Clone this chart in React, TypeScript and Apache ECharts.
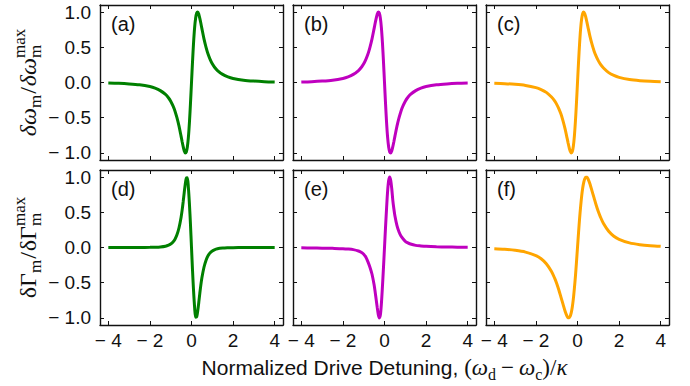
import React, { useEffect, useRef } from "react";
import * as echarts from "echarts";

// Normalized drive detuning (shared sample positions)
const X = [-4, -3.5, -3, -2.5, -2, -1.75, -1.5, -1.25, -1.1, -1.0, -0.9, -0.8, -0.7, -0.6, -0.5, -0.45, -0.4, -0.35, -0.3, -0.25, -0.2, -0.15, -0.1, -0.05, 0, 0.05, 0.1, 0.15, 0.2, 0.25, 0.3, 0.35, 0.4, 0.45, 0.5, 0.6, 0.7, 0.8, 0.9, 1.0, 1.1, 1.25, 1.5, 1.75, 2, 2.5, 3, 3.5, 4];

// (a) frequency shift, green
const A = [-0.008, -0.012, -0.02, -0.033, -0.058, -0.08, -0.115, -0.17, -0.22, -0.265, -0.325, -0.4, -0.5, -0.62, -0.765, -0.84, -0.91, -0.97, -1.0, -0.985, -0.915, -0.78, -0.57, -0.3, 0, 0.3, 0.57, 0.78, 0.915, 0.985, 1.0, 0.97, 0.91, 0.84, 0.765, 0.62, 0.5, 0.4, 0.325, 0.265, 0.22, 0.17, 0.115, 0.08, 0.058, 0.033, 0.02, 0.012, 0.008];
// (b) frequency shift, magenta
const B = [0.008, 0.012, 0.02, 0.033, 0.058, 0.08, 0.115, 0.17, 0.22, 0.265, 0.325, 0.4, 0.5, 0.62, 0.765, 0.84, 0.91, 0.97, 1.0, 0.985, 0.915, 0.78, 0.57, 0.3, 0, -0.3, -0.57, -0.78, -0.915, -0.985, -1.0, -0.97, -0.91, -0.84, -0.765, -0.62, -0.5, -0.4, -0.325, -0.265, -0.22, -0.17, -0.115, -0.08, -0.058, -0.033, -0.02, -0.012, -0.008];
// (c) frequency shift, orange
const C = [-0.012, -0.017, -0.026, -0.042, -0.073, -0.1, -0.14, -0.205, -0.26, -0.31, -0.37, -0.445, -0.54, -0.655, -0.79, -0.86, -0.925, -0.975, -1.0, -0.98, -0.905, -0.76, -0.55, -0.29, 0, 0.29, 0.55, 0.76, 0.905, 0.98, 1.0, 0.975, 0.925, 0.86, 0.79, 0.655, 0.54, 0.445, 0.37, 0.31, 0.26, 0.205, 0.14, 0.1, 0.073, 0.042, 0.026, 0.017, 0.012];
// (d) linewidth change, green
const D = [0, 0, 0, 0.001, 0.002, 0.004, 0.008, 0.018, 0.033, 0.05, 0.075, 0.115, 0.18, 0.28, 0.43, 0.53, 0.65, 0.78, 0.9, 0.985, 0.99, 0.85, 0.62, 0.33, 0, -0.33, -0.62, -0.85, -0.99, -0.985, -0.9, -0.78, -0.65, -0.53, -0.43, -0.28, -0.18, -0.115, -0.075, -0.05, -0.033, -0.018, -0.008, -0.004, -0.002, -0.001, 0, 0, 0];
// (e) linewidth change, magenta
const E = [-0.005, -0.007, -0.009, -0.012, -0.016, -0.021, -0.03, -0.05, -0.072, -0.095, -0.135, -0.2, -0.28, -0.38, -0.53, -0.63, -0.74, -0.85, -0.95, -1.0, -0.96, -0.8, -0.56, -0.29, 0, 0.29, 0.56, 0.8, 0.95, 1.0, 0.95, 0.83, 0.67, 0.55, 0.45, 0.31, 0.22, 0.16, 0.12, 0.088, 0.07, 0.05, 0.03, 0.022, 0.016, 0.01, 0.007, 0.005, 0.004];
// (f) linewidth change, orange
const F = [-0.018, -0.026, -0.04, -0.065, -0.117, -0.16, -0.23, -0.34, -0.435, -0.51, -0.6, -0.7, -0.8, -0.9, -0.977, -0.997, -0.998, -0.975, -0.925, -0.845, -0.73, -0.58, -0.41, -0.21, 0, 0.21, 0.41, 0.58, 0.73, 0.845, 0.925, 0.975, 0.998, 0.997, 0.977, 0.9, 0.8, 0.7, 0.6, 0.51, 0.435, 0.34, 0.23, 0.16, 0.117, 0.065, 0.04, 0.026, 0.018];

const SERIES_Y = [A, B, C, D, E, F];
const COLORS = ["#008000", "#bf00bf", "#ffa500", "#008000", "#bf00bf", "#ffa500"];
const PANEL_LABELS = ["(a)", "(b)", "(c)", "(d)", "(e)", "(f)"];
const X_TICKS = [-4, -2, 0, 2, 4];
const Y_TICKS = [-1, -0.5, 0, 0.5, 1];

const SANS = "'Liberation Sans', Arial, sans-serif";
const SERIF = "'Liberation Serif', 'Times New Roman', serif";
const INK = "#111111";

const LEFTS = [100, 293, 486];
const TOPS = [5, 170];
const PW = 183;
const PH = 155;

function fmt(v: number, digits: number) {
  const s = Math.abs(v).toFixed(digits);
  return v < -1e-9 ? "\u2212 " + s : s;
}

type Seg = {
  t: string;
  size: number;
  italic?: boolean;
  family?: string;
  dy?: number;
  gap?: number;
  sub?: { t: string; size: number; dy: number };
};

function buildMath(segs: Seg[], ctx: CanvasRenderingContext2D | null) {
  const measure = (t: string, size: number, italic: boolean, family: string) => {
    if (!ctx) return t.length * size * 0.5;
    ctx.font = `${italic ? "italic " : ""}${size}px ${family}`;
    return ctx.measureText(t).width;
  };
  const items: any[] = [];
  let x = 0;
  for (const s of segs) {
    const fam = s.family || SERIF;
    const w1 = measure(s.t, s.size, !!s.italic, fam);
    const dy = s.dy || 0;
    items.push({ t: s.t, x, y: dy - 0.34 * s.size, size: s.size, italic: !!s.italic, fam });
    let w = w1;
    if (s.sub) {
      const w2 = measure(s.sub.t, s.sub.size, false, fam);
      items.push({ t: s.sub.t, x, y: s.sub.dy - 0.34 * s.sub.size, size: s.sub.size, italic: false, fam });
      w = Math.max(w1, w2);
    }
    x += w + (s.gap || 0);
  }
  const total = x;
  return items.map((it) => ({
    type: "text",
    x: it.x - total / 2,
    y: it.y,
    silent: true,
    style: {
      text: it.t,
      fontSize: it.size,
      fontFamily: it.fam,
      fontStyle: it.italic ? "italic" : "normal",
      fill: INK,
      align: "left",
      verticalAlign: "middle",
    },
  }));
}

export default function App() {
  const ref = useRef<HTMLDivElement>(null);
  useEffect(() => {
    if (!ref.current) return;
    const chart = echarts.init(ref.current, null, { renderer: "svg" });
    const ctx = document.createElement("canvas").getContext("2d");

    const grids: any[] = [];
    const xAxes: any[] = [];
    const yAxes: any[] = [];
    const series: any[] = [];
    const graphics: any[] = [];
    const lineStyle = { color: INK, width: 1.4 };
    const tickStyle = { color: INK, width: 1 };
    const labelStyle = { fontFamily: SANS, fontSize: 19, color: INK };

    for (let i = 0; i < 6; i++) {
      const row = Math.floor(i / 3);
      const col = i % 3;
      grids.push({ left: LEFTS[col], top: TOPS[row], width: PW, height: PH, containLabel: false });
      for (const pos of ["bottom", "top"]) {
        xAxes.push({
          gridIndex: i,
          type: "value",
          position: pos,
          min: -4.4,
          max: 4.4,
          axisLine: { show: true, onZero: false, lineStyle },
          axisTick: { show: true, inside: true, length: 4, customValues: X_TICKS, lineStyle: tickStyle },
          axisLabel: {
            show: pos === "bottom" && row === 1,
            customValues: X_TICKS,
            formatter: (v: number) => fmt(v, 0),
            margin: 6,
            ...labelStyle,
          },
          splitLine: { show: false },
        });
      }
      for (const pos of ["left", "right"]) {
        yAxes.push({
          gridIndex: i,
          type: "value",
          position: pos,
          min: -1.1,
          max: 1.1,
          axisLine: { show: true, onZero: false, lineStyle },
          axisTick: { show: true, inside: true, length: 4, customValues: Y_TICKS, lineStyle: tickStyle },
          axisLabel: {
            show: pos === "left" && col === 0,
            customValues: Y_TICKS,
            formatter: (v: number) => fmt(v, 1),
            margin: 9,
            ...labelStyle,
          },
          splitLine: { show: false },
        });
      }
      series.push({
        type: "line",
        xAxisIndex: 2 * i,
        yAxisIndex: 2 * i,
        data: X.map((x, j) => [x, SERIES_Y[i][j]]),
        showSymbol: false,
        smooth: 0.3,
        silent: true,
        lineStyle: { color: COLORS[i], width: 3 },
        itemStyle: { color: COLORS[i] },
      });
      graphics.push({
        type: "text",
        left: LEFTS[col] + 11,
        top: TOPS[row] + 9,
        silent: true,
        style: { text: PANEL_LABELS[i], fontFamily: SANS, fontSize: 20, fill: INK },
      });
    }

    const Fm = 24;
    const sm = Math.round(Fm * 0.7);
    const subDy = 0.22 * Fm;
    const supDy = -0.45 * Fm;
    const yTitleTop = buildMath(
      [
        { t: "δω", size: Fm, italic: true },
        { t: "m", size: sm, dy: subDy, gap: 1 },
        { t: "/", size: Fm, gap: 1 },
        { t: "δω", size: Fm, italic: true },
        { t: "max", size: sm, dy: supDy, sub: { t: "m", size: sm, dy: subDy } },
      ],
      ctx
    );
    const yTitleBot = buildMath(
      [
        { t: "δΓ", size: Fm },
        { t: "m", size: sm, dy: subDy, gap: 1 },
        { t: "/", size: Fm, gap: 1 },
        { t: "δΓ", size: Fm },
        { t: "max", size: sm, dy: supDy, sub: { t: "m", size: sm, dy: subDy } },
      ],
      ctx
    );
    graphics.push({ type: "group", x: 36, y: TOPS[0] + PH / 2, rotation: Math.PI / 2, children: yTitleTop });
    graphics.push({ type: "group", x: 36, y: TOPS[1] + PH / 2, rotation: Math.PI / 2, children: yTitleBot });

    const Fx = 23;
    const sx = Math.round(Fx * 0.7);
    const xTitle = buildMath(
      [
        { t: "Normalized Drive Detuning, ", size: 21, family: SANS },
        { t: "(", size: Fx },
        { t: "ω", size: Fx, italic: true },
        { t: "d", size: sx, dy: 0.22 * Fx, gap: 5 },
        { t: "−", size: Fx, gap: 5 },
        { t: "ω", size: Fx, italic: true },
        { t: "c", size: sx, dy: 0.22 * Fx },
        { t: ")", size: Fx },
        { t: "/", size: Fx },
        { t: "κ", size: Fx, italic: true },
      ],
      ctx
    );
    graphics.push({ type: "group", x: LEFTS[1] + PW / 2, y: 375, children: xTitle });

    chart.setOption({
      animation: false,
      backgroundColor: "#ffffff",
      grid: grids,
      xAxis: xAxes,
      yAxis: yAxes,
      series,
      graphic: graphics,
    });
    return () => chart.dispose();
  }, []);
  return <div ref={ref} style={{ position: "absolute", left: 0, top: 0, width: 690, height: 386 }} />;
}
